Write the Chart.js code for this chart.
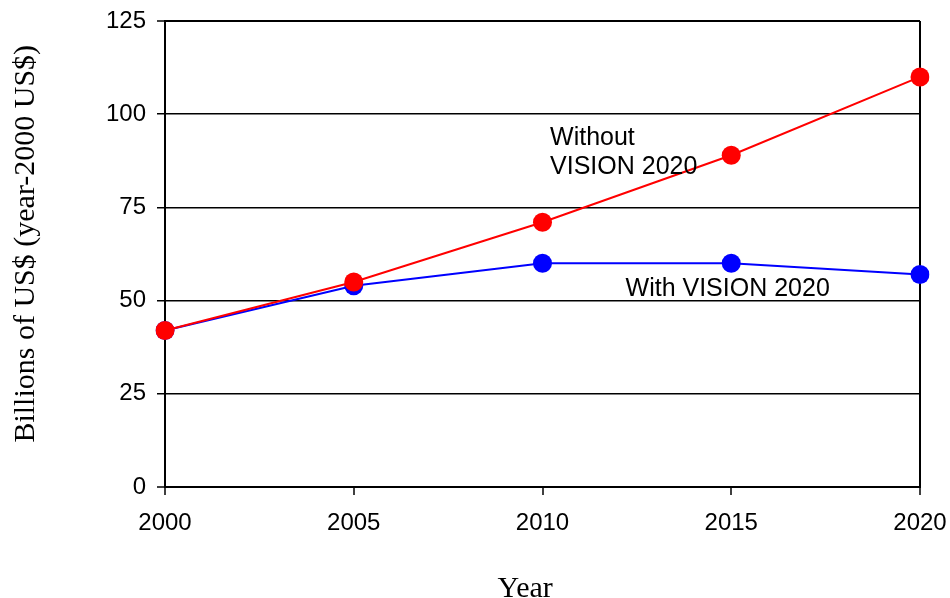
<!DOCTYPE html>
<html lang="en">
  <head>
    <meta charset="UTF-8" />
    <title>Chart</title>
    <script src="https://cdn.jsdelivr.net/npm/chart.js@4.4.1/dist/chart.umd.min.js"></script>
    <style>
      html, body { margin: 0; padding: 0; background: #fff; }
      #wrap { width: 950px; height: 598px; }
    </style>
  </head>
  <body>
    <div id="wrap"><canvas id="chart"></canvas></div>

    <script>
      const years = ['2000', '2005', '2010', '2015', '2020']
      const withoutVision = [42, 55, 71, 89, 110]
      const withVision = [42, 54, 60, 60, 57]
      const labelWithout = ['Without', 'VISION 2020']
      const labelWith = ['With VISION 2020']
      const xTitle = 'Year'
      const yTitle = 'Billions of US$ (year-2000 US$)'

      const SANS = '"Liberation Sans", Arial, sans-serif'
      const SERIF = '"Liberation Serif", "Times New Roman", serif'

      // series labels sit in data units; axis titles are drawn beside the plot
      const notes = {
        id: 'notes',
        afterDraw(chart) {
          const { ctx, chartArea, scales: { x, y } } = chart
          ctx.save()
          ctx.fillStyle = '#000'
          ctx.font = '25px ' + SANS
          ctx.textAlign = 'left'
          ctx.textBaseline = 'middle'
          const x1 = x.getPixelForValue(2.04)
          ctx.fillText(labelWithout[0], x1, y.getPixelForValue(93.7))
          ctx.fillText(labelWithout[1], x1, y.getPixelForValue(85.9))
          ctx.fillText(labelWith[0], x.getPixelForValue(2.44), y.getPixelForValue(53))

          ctx.font = '30px ' + SERIF
          ctx.textAlign = 'center'
          ctx.textBaseline = 'alphabetic'
          ctx.fillText(xTitle, chartArea.left + (chartArea.width * 0.477), chart.height - 1)

          ctx.translate(34, chartArea.top + chartArea.height * 0.478)
          ctx.rotate(-Math.PI / 2)
          ctx.fillText(yTitle, 0, 0)
          ctx.restore()
        },
      }

      new Chart(document.getElementById('chart').getContext('2d'), {
        type: 'line',
        data: {
          labels: years,
          datasets: [
            {
              label: 'Without VISION 2020',
              data: withoutVision,
              borderColor: '#ff0000',
              backgroundColor: '#ff0000',
              borderWidth: 2,
              pointRadius: 9.5,
              pointBorderWidth: 0,
            },
            {
              label: 'With VISION 2020',
              data: withVision,
              borderColor: '#0000ff',
              backgroundColor: '#0000ff',
              borderWidth: 2,
              pointRadius: 9.5,
              pointBorderWidth: 0,
            },
          ],
        },
        options: {
          responsive: true,
          maintainAspectRatio: false,
          animation: false,
          events: [],
          layout: { padding: { top: 21, right: 30, left: 0, bottom: 0 } },
          plugins: {
            legend: { display: false },
            tooltip: { enabled: false },
          },
          scales: {
            x: {
              offset: false,
              border: { display: true, color: '#000', width: 2 },
              grid: {
                drawOnChartArea: true,
                color: (c) => (c.index === 0 || c.index === years.length - 1 ? '#000' : 'rgba(0,0,0,0)'),
                lineWidth: 2,
                tickColor: '#000',
                tickWidth: 1.5,
                tickLength: 8,
              },
              ticks: {
                color: '#000',
                font: { family: SANS, size: 24 },
                padding: 14,
                maxRotation: 0,
              },
              afterFit(scale) {
                scale.height = 111
                scale.paddingLeft = 0
                scale.paddingRight = 0
              },
            },
            y: {
              min: 0,
              max: 125,
              border: { display: true, color: '#000', width: 2 },
              grid: {
                color: '#000',
                lineWidth: (c) => (c.tick && (c.tick.value === 0 || c.tick.value === 125) ? 2 : 1.5),
                tickColor: '#000',
                tickWidth: 1.5,
                tickLength: 8,
              },
              ticks: {
                stepSize: 25,
                color: '#000',
                font: { family: SANS, size: 24 },
                padding: 11,
              },
              afterFit(scale) {
                scale.width = 165
                scale.paddingTop = 0
                scale.paddingBottom = 0
              },
            },
          },
        },
        plugins: [notes],
      })
    </script>
  </body>
</html>
